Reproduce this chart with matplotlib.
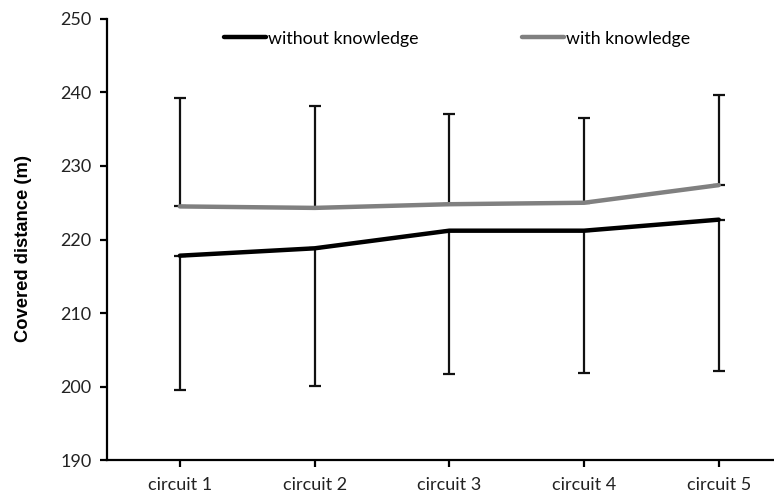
import matplotlib.pyplot as plt
import numpy as np

circuits = ["circuit 1", "circuit 2", "circuit 3", "circuit 4", "circuit 5"]
without_knowledge = [217.8, 218.8, 221.2, 221.2, 222.7]
with_knowledge = [224.5, 224.3, 224.8, 225.0, 227.4]
# standard deviations: upper bars for "with", lower bars for "without"
sd_without = [18.3, 18.7, 19.5, 19.4, 20.6]
sd_with = [14.7, 13.9, 12.3, 11.5, 12.3]

x = np.arange(1, len(circuits) + 1)

fig = plt.figure(figsize=(7.74, 4.97), dpi=100)
ax = fig.add_axes([0.138, 0.0744, 0.862, 0.8874])

ax.errorbar(x, without_knowledge, yerr=[sd_without, np.zeros(5)], fmt="none",
            ecolor="#111111", elinewidth=1.6, capsize=4, capthick=1.6, zorder=2)
ax.errorbar(x, with_knowledge, yerr=[np.zeros(5), sd_with], fmt="none",
            ecolor="#111111", elinewidth=1.6, capsize=4, capthick=1.6, zorder=2)

ax.plot(x, without_knowledge, color="black", lw=3.2, solid_capstyle="round",
        label="without knowledge", zorder=3)
ax.plot(x, with_knowledge, color="#808080", lw=3.2, solid_capstyle="round",
        label="with knowledge", zorder=3)

ax.set_ylim(190, 250)
ax.set_yticks(np.arange(190, 251, 10))
ax.set_xlim(0.458, 5.41)
ax.set_xticks(x)
ax.set_xticklabels(circuits)

for s in ["top", "right"]:
    ax.spines[s].set_visible(False)
for s in ["left", "bottom"]:
    ax.spines[s].set_linewidth(1.6)
    ax.spines[s].set_color("black")

ax.tick_params(axis="both", direction="out", length=5, width=1.6,
               labelsize=13, colors="black", labelcolor="#222222")
for lab in ax.get_xticklabels() + ax.get_yticklabels():
    lab.set_family("Lato")
ax.tick_params(axis="y", pad=6)
ax.tick_params(axis="x", pad=7)

ax.set_ylabel("Covered distance (m)", fontsize=13.2, fontweight="bold",
              family="Liberation Sans")
ax.yaxis.set_label_coords(-0.112, 0.48)

leg = ax.legend(loc="upper left", bbox_to_anchor=(0.151, 1.01), ncol=2,
                frameon=False, handlelength=2.4, handletextpad=0.1,
                columnspacing=5.8, prop={"family": "Lato", "size": 12.8})

fig.savefig("out.png", dpi=100)
